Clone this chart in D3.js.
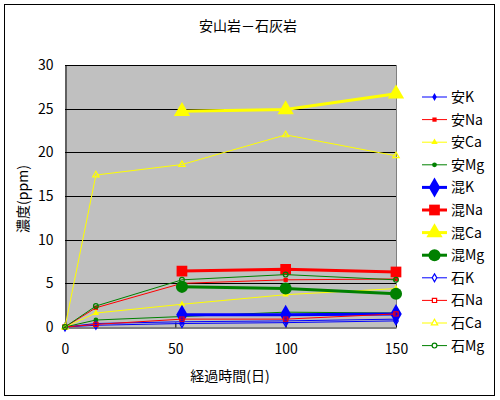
<!DOCTYPE html>
<html lang="ja">
<head>
<meta charset="utf-8">
<title>安山岩-石灰岩</title>
<script src="https://cdn.jsdelivr.net/npm/d3@7"></script>
<style>
  body { margin: 0; background: #fff; }
  text { font-family: "Noto Sans CJK JP", "DejaVu Sans", sans-serif; fill: #000; }
</style>
</head>
<body>
<script>
// data
var days = [0, 14, 53, 100, 150];
var anK  = [0, 0.4, 0.6, 0.7, 0.9];
var anNa = [0, 2.2, 5.0, 5.4, 5.5];
var anCa = [0, 1.6, 2.6, 3.7, 4.4];
var anMg = [0, 0.8, 1.2, 1.7, 1.6];
var konK  = [null, null, 1.4, 1.4, 1.5];
var konNa = [null, null, 6.4, 6.6, 6.3];
var konCa = [null, null, 24.7, 24.9, 26.7];
var konMg = [null, null, 4.6, 4.4, 3.8];
var sekiK  = [0, 0.2, 0.4, 0.5, 0.7];
var sekiNa = [0, 0.3, 0.9, 0.9, 1.5];
var sekiCa = [0, 17.4, 18.6, 22.0, 19.6];
var sekiMg = [0, 2.4, 5.4, 6.0, 5.4];
var xTicks = [0, 50, 100, 150];
var yTicks = [0, 5, 10, 15, 20, 25, 30];

var colors = { K: "#0000ff", Na: "#ff0000", Ca: "#ffff00", Mg: "#008000" };
var shapes = { K: d3.symbolDiamond, Na: d3.symbolSquare, Ca: d3.symbolTriangle, Mg: d3.symbolCircle };

var series = [
  { name: "安K",  el: "K",  vals: anK,  kind: "an" },
  { name: "安Na", el: "Na", vals: anNa, kind: "an" },
  { name: "安Ca", el: "Ca", vals: anCa, kind: "an" },
  { name: "安Mg", el: "Mg", vals: anMg, kind: "an" },
  { name: "混K",  el: "K",  vals: konK,  kind: "kon" },
  { name: "混Na", el: "Na", vals: konNa, kind: "kon" },
  { name: "混Ca", el: "Ca", vals: konCa, kind: "kon" },
  { name: "混Mg", el: "Mg", vals: konMg, kind: "kon" },
  { name: "石K",  el: "K",  vals: sekiK,  kind: "seki" },
  { name: "石Na", el: "Na", vals: sekiNa, kind: "seki" },
  { name: "石Ca", el: "Ca", vals: sekiCa, kind: "seki" },
  { name: "石Mg", el: "Mg", vals: sekiMg, kind: "seki" }
];

var style = {
  an:   { width: 1, size: 18, fill: true },
  kon:  { width: 3, size: 115, fill: true },
  seki: { width: 1, size: 18, fill: false }
};

var width = 500, height = 400;
var svg = d3.select("body").append("svg")
            .attr("width", width)
            .attr("height", height);

// outer frame
svg.append("rect")
   .attr("x", 4.5).attr("y", 4.5)
   .attr("width", 490).attr("height", 391)
   .attr("fill", "#fff").attr("stroke", "#000");

var x = d3.scaleLinear().domain([0, 150]).range([65, 396]);
var y = d3.scaleLinear().domain([0, 30]).range([327, 65]);

// plot area
svg.append("rect")
   .attr("x", x(0)).attr("y", y(30))
   .attr("width", x(150) - x(0)).attr("height", y(0) - y(30))
   .attr("fill", "#c0c0c0");

svg.append("line")
   .attr("x1", x(150) + 0.5).attr("x2", x(150) + 0.5)
   .attr("y1", y(30)).attr("y2", y(0))
   .attr("stroke", "#808080");

// gridlines
svg.append("g")
   .selectAll("line")
   .data(yTicks.slice(1))
   .enter().append("line")
   .attr("x1", x(0)).attr("x2", x(150))
   .attr("y1", function(d) { return Math.round(y(d)) + 0.5; })
   .attr("y2", function(d) { return Math.round(y(d)) + 0.5; })
   .attr("stroke", "#000");

// axes
var xAxis = svg.append("g")
   .attr("transform", "translate(0," + (Math.round(y(0)) + 0.5) + ")")
   .call(d3.axisBottom(x).tickValues(xTicks).tickSizeInner(-5).tickSizeOuter(0).tickPadding(17));
var yAxis = svg.append("g")
   .attr("transform", "translate(" + (x(0) + 0.5) + ",0)")
   .call(d3.axisLeft(y).tickValues(yTicks).tickSize(0).tickPadding(12));
[xAxis, yAxis].forEach(function(g) {
  g.selectAll("path, line").attr("stroke", "#000");
  g.selectAll("text").attr("font-size", 14).attr("fill", "#000")
   .style("font-family", "\"Noto Sans CJK JP\", sans-serif");
});

// series
var line = d3.line()
   .defined(function(d) { return d[1] !== null; })
   .x(function(d) { return x(d[0]); })
   .y(function(d) { return y(d[1]); });

series.forEach(function(s) {
  var st = style[s.kind];
  var pts = days.map(function(d, i) { return [d, s.vals[i]]; });
  svg.append("path")
     .attr("d", line(pts))
     .attr("fill", "none")
     .attr("stroke", colors[s.el])
     .attr("stroke-width", st.width);
  svg.selectAll(null)
     .data(pts.filter(function(p) { return p[1] !== null; }))
     .enter().append("path")
     .attr("transform", function(p) { return "translate(" + x(p[0]) + "," + y(p[1]) + ")"; })
     .attr("d", d3.symbol().type(shapes[s.el]).size(st.size))
     .attr("fill", st.fill ? colors[s.el] : "none")
     .attr("stroke", colors[s.el])
     .attr("stroke-width", st.fill ? 0 : 1.2);
});

// titles
svg.append("text")
   .attr("x", 248).attr("y", 31)
   .attr("text-anchor", "middle")
   .attr("font-size", 14)
   .text("安山岩－石灰岩");

svg.append("text")
   .attr("x", 230).attr("y", 381)
   .attr("text-anchor", "middle")
   .attr("font-size", 14)
   .text("経過時間(日)");

svg.append("text")
   .attr("transform", "translate(28,199) rotate(-90)")
   .attr("text-anchor", "middle")
   .attr("font-size", 14)
   .text("濃度(ppm)");

// legend
var legend = svg.append("g");
series.forEach(function(s, i) {
  var st = style[s.kind];
  var ly = 97 + i * 22.6;
  var g = legend.append("g").attr("transform", "translate(0," + ly + ")");
  g.append("line")
   .attr("x1", 422).attr("x2", 447)
   .attr("stroke", colors[s.el])
   .attr("stroke-width", st.width);
  g.append("path")
   .attr("transform", "translate(434.5,0)")
   .attr("d", d3.symbol().type(shapes[s.el]).size(st.size))
   .attr("fill", st.fill ? colors[s.el] : "#fff")
   .attr("stroke", colors[s.el])
   .attr("stroke-width", st.fill ? 0 : 1.2);
  g.append("text")
   .attr("x", 451).attr("y", 5)
   .attr("font-size", 14)
   .text(s.name);
});
</script>
</body>
</html>
